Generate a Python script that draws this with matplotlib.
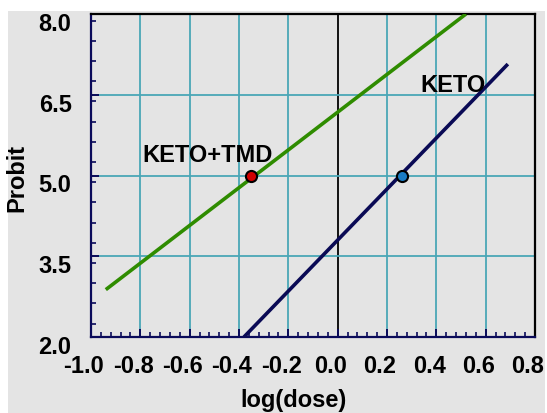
import matplotlib.pyplot as plt
import numpy as np
from matplotlib.patches import Rectangle
from matplotlib.ticker import MultipleLocator, FixedLocator
import matplotlib.transforms as mtransforms

plt.rcParams["font.family"] = ["Liberation Sans", "DejaVu Sans"]
plt.rcParams["font.weight"] = "bold"
plt.rcParams["axes.unicode_minus"] = False

# regression lines (log dose vs probit)
keto_tmd_x = [-0.94, 0.52]
keto_tmd_y = [2.88, 8.0]
keto_x = [-0.38, 0.69]
keto_y = [2.0, 7.07]

# ED50 points
keto_tmd_pt = (-0.35, 5.0)
keto_pt = (0.26, 5.0)

x_ticks = [-1.0, -0.8, -0.6, -0.4, -0.2, 0.0, 0.2, 0.4, 0.6, 0.8]
y_ticks = [2.0, 3.5, 5.0, 6.5, 8.0]

bg = "#e4e4e4"
grid_c = "#4aa6b6"
navy = "#0a0a5a"
fs = 17

fig = plt.figure(figsize=(5.47, 4.13), dpi=100)
fig.patch.set_facecolor("white")
fig.patches.append(Rectangle((8 / 547, 0), (545 - 8) / 547, 1 - 11 / 413,
                             transform=fig.transFigure, facecolor=bg,
                             edgecolor="none", zorder=-10))

ax = fig.add_axes([91 / 547, 1 - 337 / 413, (535 - 91) / 547, (337 - 14) / 413])
ax.set_facecolor(bg)
ax.set_xlim(-1.0, 0.8)
ax.set_ylim(2.0, 8.0)

# grid
for gx in x_ticks[1:-1]:
    if abs(gx) < 1e-9:
        ax.axvline(gx, color="black", lw=1.3, zorder=1)
    else:
        ax.axvline(gx, color=grid_c, lw=1.3, zorder=1)
for gy in y_ticks[1:-1]:
    ax.axhline(gy, color=grid_c, lw=1.3, zorder=1)

ax.plot(keto_tmd_x, keto_tmd_y, color="#2f8c00", lw=2.6, solid_capstyle="butt", zorder=3)
ax.plot(keto_x, keto_y, color="#0a0a55", lw=2.6, solid_capstyle="butt", zorder=3)
ax.plot(*keto_tmd_pt, "o", ms=8, mfc="#d00000", mec="black", mew=1.5, zorder=4)
ax.plot(*keto_pt, "o", ms=8, mfc="#1a7cc4", mec="black", mew=1.5, zorder=4)

ax.text(-0.793, 5.38, "KETO+TMD", fontsize=fs, fontweight="bold", va="center", ha="left", zorder=5)
ax.text(0.334, 6.68, "KETO", fontsize=fs, fontweight="bold", va="center", ha="left", zorder=5)

# spines
for s in ["left", "bottom"]:
    ax.spines[s].set_color(navy)
    ax.spines[s].set_linewidth(1.6)
for s in ["top", "right"]:
    ax.spines[s].set_color("black")
    ax.spines[s].set_linewidth(1.6)

ax.xaxis.set_major_locator(FixedLocator(x_ticks))
ax.yaxis.set_major_locator(FixedLocator(y_ticks))
ax.xaxis.set_minor_locator(MultipleLocator(0.04))
ax.yaxis.set_minor_locator(MultipleLocator(0.375))
ax.set_xticklabels(["%.1f" % v for v in x_ticks])
ax.set_yticklabels(["%.1f" % v for v in y_ticks])
ax.tick_params(which="major", direction="in", length=6, width=1.4, color=navy,
               labelsize=fs, top=False, right=False)
ax.tick_params(which="minor", direction="in", length=3.5, width=1.2, color=navy,
               top=False, right=False)
ax.tick_params(axis="x", which="major", pad=13)
ax.tick_params(axis="y", which="major", pad=14)

dx = mtransforms.ScaledTranslation(-7 / 100, 0, fig.dpi_scale_trans)
for lab in ax.get_xticklabels():
    lab.set_transform(lab.get_transform() + dx)
dy = mtransforms.ScaledTranslation(0, -8 / 100, fig.dpi_scale_trans)
for lab in ax.get_yticklabels():
    lab.set_transform(lab.get_transform() + dy)

ax.set_xlabel("log(dose)", fontsize=fs, fontweight="bold")
ax.set_ylabel("Probit", fontsize=fs, fontweight="bold")
ax.xaxis.set_label_coords((294 - 91) / 444, (337 - 400) / 323)
ax.yaxis.set_label_coords((17 - 91) / 444, (337 - 178) / 323)
ax.xaxis.label.set_va("center")
ax.yaxis.label.set_va("center")

fig.savefig("out.png", dpi=100)
